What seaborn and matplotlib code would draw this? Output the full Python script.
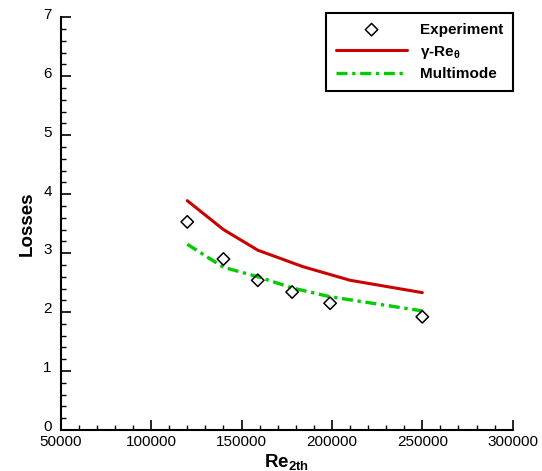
import numpy as np
import pandas as pd
import matplotlib
matplotlib.use("Agg")
import matplotlib.pyplot as plt
import matplotlib.transforms as mtransforms
from matplotlib.ticker import MultipleLocator
import seaborn as sns

# --- data ---
re_exp = [120000, 140000, 159000, 178000, 199000, 250000]
loss_exp = [3.53, 2.90, 2.54, 2.34, 2.15, 1.92]

re_gamma = [120000, 140000, 159000, 184000, 210000, 250000]
loss_gamma = [3.89, 3.40, 3.05, 2.77, 2.54, 2.33]

re_multi = [120000, 140000, 159000, 178000, 199000, 250000]
loss_multi = [3.15, 2.76, 2.60, 2.41, 2.26, 2.02]

x_ticks = [50000, 100000, 150000, 200000, 250000, 300000]
y_ticks = [0, 1, 2, 3, 4, 5, 6, 7]

sns.set_style("ticks")
plt.rcParams['font.family'] = ['Liberation Sans', 'DejaVu Sans']
plt.rcParams['mathtext.fontset'] = 'custom'
plt.rcParams['mathtext.rm'] = 'Liberation Sans:bold'
plt.rcParams['mathtext.it'] = 'Liberation Sans:bold'
plt.rcParams['mathtext.bf'] = 'Liberation Sans:bold'
plt.rcParams['text.color'] = 'black'
plt.rcParams['axes.labelcolor'] = 'black'
plt.rcParams['xtick.color'] = 'black'
plt.rcParams['ytick.color'] = 'black'

fig = plt.figure(figsize=(5.42, 4.71), dpi=100)
ax = fig.add_axes([60.7 / 542, 41 / 471, 452 / 542, 412.7 / 471])

sns.lineplot(x=re_gamma, y=loss_gamma, ax=ax, color='#cc0000', lw=2.2,
             label=r'γ-Re$_{\theta}$', sort=False)
sns.lineplot(x=re_multi, y=loss_multi, ax=ax, color='#00cc00', lw=2.4,
             linestyle=(0, (3.3, 1.4, 1.0, 1.4)), label='Multimode', sort=False)
sns.scatterplot(x=re_exp, y=loss_exp, ax=ax, marker='D', s=40,
                facecolors='none', edgecolors='black', linewidth=1.1,
                label='Experiment', zorder=5)

ax.set_xlim(50000, 300000)
ax.set_ylim(0, 7)
ax.set_xticks(x_ticks)
ax.set_yticks(y_ticks)
ax.set_xticklabels([str(v) for v in x_ticks])
ax.set_yticklabels([str(v) for v in y_ticks])
ax.xaxis.set_minor_locator(MultipleLocator(10000))
ax.yaxis.set_minor_locator(MultipleLocator(0.2))

ax.tick_params(which='major', direction='in', length=7.2, width=1.2, labelsize=11,
               color='black', labelcolor='black')
ax.tick_params(which='minor', direction='in', length=3.8, width=1.0, color='black')
ax.tick_params(axis='x', which='major', pad=3.5)
ax.tick_params(axis='y', which='major', pad=6.5)

# y labels sit a little above their ticks, like the reference
shift = mtransforms.ScaledTranslation(0, 3 / 72, fig.dpi_scale_trans)
for lbl in ax.get_yticklabels():
    lbl.set_transform(lbl.get_transform() + shift)

for s in ['top', 'right']:
    ax.spines[s].set_visible(False)
for s in ['left', 'bottom']:
    ax.spines[s].set_linewidth(1.5)
    ax.spines[s].set_color('black')

ax.set_xlabel(r'Re$_{2th}$', fontsize=13.5, fontweight='bold', labelpad=2)
ax.set_ylabel('Losses', fontsize=13.5, fontweight='bold', labelpad=5)

handles, labels = ax.get_legend_handles_labels()
order = ['Experiment', r'γ-Re$_{\theta}$', 'Multimode']
hl = dict(zip(labels, handles))
leg = ax.legend([hl[k] for k in order], order, loc='upper right',
                bbox_to_anchor=(1.001, 1.01), borderaxespad=0,
                fancybox=False, framealpha=1, edgecolor='black',
                handlelength=4.7, handletextpad=0.85, labelspacing=0.45,
                borderpad=0.62, prop={'weight': 'bold', 'size': 11})
leg.get_frame().set_linewidth(1.5)

fig.savefig('out.png', dpi=100)
